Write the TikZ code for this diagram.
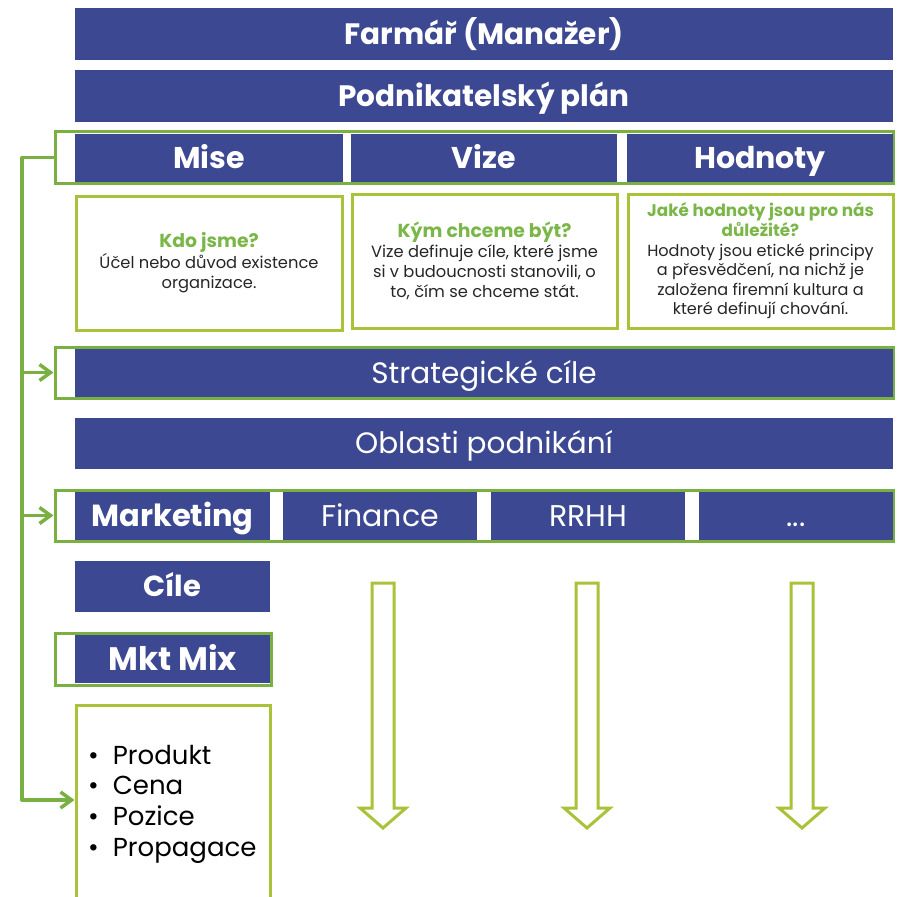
\documentclass[tikz,border=0pt]{standalone}
\usepackage{fontspec}
\setmainfont{Poppins}
\usetikzlibrary{arrows.meta}
\definecolor{navy}{RGB}{60,72,145}
\definecolor{lgreen}{RGB}{122,176,66}
\definecolor{ygreen}{RGB}{168,194,58}
\definecolor{qgreen}{RGB}{122,182,72}
\newcommand{\qh}[2]{{\fontsize{#1}{20}\selectfont\color{qgreen}\bfseries #2}}
\begin{document}
\begin{tikzpicture}[x=1pt,y=-1pt,
  bluebox/.style={fill=navy,text=white,inner sep=0pt,minimum height=48pt,text depth=0pt},
  fs/.style={font=\fontsize{#1}{#1}\selectfont,text height=0.7*#1 pt},
  fsb/.style={font=\fontsize{#1}{#1}\selectfont\bfseries,text height=0.7*#1 pt},
  titlebox/.style={bluebox,minimum width=818pt,minimum height=52pt,fsb=29.5},
  headbox/.style={bluebox,minimum width=266pt,fsb=30},
  grp/.style={draw=lgreen,line width=3pt,fill=white,inner sep=0pt,minimum height=51pt},
  txtbox/.style={draw=ygreen,line width=3pt,fill=white,inner sep=0pt,minimum width=265pt,minimum height=134pt,align=center,text=black!85,font=\fontsize{16.3}{19.8}\selectfont},
  areabox/.style={bluebox,minimum width=194pt,fs=30},
  conn/.style={draw=lgreen,line width=3.5pt,line cap=round,line join=round},
  bigarrow/.style={draw=ygreen,line width=3pt,fill=white},
  barb/.style={-{Straight Barb[length=11pt,width=16pt,line width=3.5pt]}},
]
\path[use as bounding box] (0,0) rectangle (901,896);
\clip (0,0) rectangle (901,896);

% titles
\node[titlebox] (farmar) at (484,34.5) {Farmář (Manažer)};
\node[titlebox] (plan) at (484,96.5) {Podnikatelský plán};

% mise / vize / hodnoty
\node[grp,minimum width=838pt] (mvhgrp) at (474,157.5) {};
\node[headbox,minimum width=268pt] (mise) at (209,158) {Mise};
\node[headbox] (vize) at (484,158) {Vize};
\node[headbox] (hodnoty) at (760,158) {Hodnoty};

\node[txtbox,minimum width=266pt] (misetxt) at (209,263)
  {\qh{18.8}{Kdo jsme?}\\Účel nebo důvod existence\\organizace.};
\node[txtbox] (vizetxt) at (484.5,261)
  {\qh{18.8}{Kým chceme být?}\\Vize definuje cíle, které jsme\\si v budoucnosti stanovili, o\\to, čím se chceme stát.};
\node[txtbox,font=\fontsize{16.1}{19.6}\selectfont] (hodtxt) at (760.5,261)
  {\qh{16.8}{Jaké hodnoty jsou pro nás}\\\qh{16.8}{důležité?}\\Hodnoty jsou etické principy\\a přesvědčení, na nichž je\\založena firemní kultura a\\které definují chování.};

% strategic goals
\node[grp,minimum width=838pt] (stratgrp) at (474,372.5) {};
\node[bluebox,minimum width=818pt,fs=29.5] (strat) at (484,373) {Strategické cíle};

% business areas
\node[bluebox,minimum width=818pt,minimum height=51pt,fs=29.5] (oblasti) at (484,443.5) {Oblasti podnikání};

\node[grp,minimum width=838pt] (areagrp) at (474,515.5) {};
\node[areabox,minimum width=195pt,fsb=30.5] (marketing) at (172.5,516) {Marketing};
\node[areabox] (finance) at (380,516) {Finance};
\node[areabox] (rrhh) at (588,516) {RRHH};
\node[areabox] (dots) at (796,516) {...};

% marketing column
\node[bluebox,minimum width=195pt,minimum height=51pt,fsb=29] (cile) at (172.5,586.5) {Cíle};
\node[grp,minimum width=216pt,minimum height=52pt] (mixgrp) at (163,659) {};
\node[bluebox,minimum width=195pt,fsb=32.5] (mix) at (172.5,659) {Mkt Mix};

\node[draw=ygreen,line width=3pt,fill=white,minimum width=194pt,minimum height=205pt,inner sep=0pt] (listbox) at (173,807.5) {};
\node[anchor=west,inner sep=0pt,align=left,font=\fontsize{26}{30.6}\selectfont,text=black] (list) at (88,804)
  {\begin{tabular}{@{}l@{\hspace{14pt}}l@{}}•&Produkt\\•&Cena\\•&Pozice\\•&Propagace\end{tabular}};

% connectors
\coordinate (ctop) at (22,157.5);
\coordinate (cstrat) at (22,372.5);
\coordinate (carea) at (22,515.5);
\coordinate (clist) at (22,800);
\draw[conn] (mvhgrp.west) -- (ctop) -- (clist);
\draw[conn,barb] (cstrat) -- (stratgrp.west);
\draw[conn,barb] (carea) -- (areagrp.west);
\draw[conn,barb] (clist) -- (listbox.west |- clist);

% block arrows
\foreach \cx in {383,587,802}{
  \draw[bigarrow] (\cx-11,583) -- (\cx+11,583) -- (\cx+11,808) -- (\cx+23,808) -- (\cx,828) -- (\cx-23,808) -- (\cx-11,808) -- cycle;
}
\end{tikzpicture}
\end{document}
